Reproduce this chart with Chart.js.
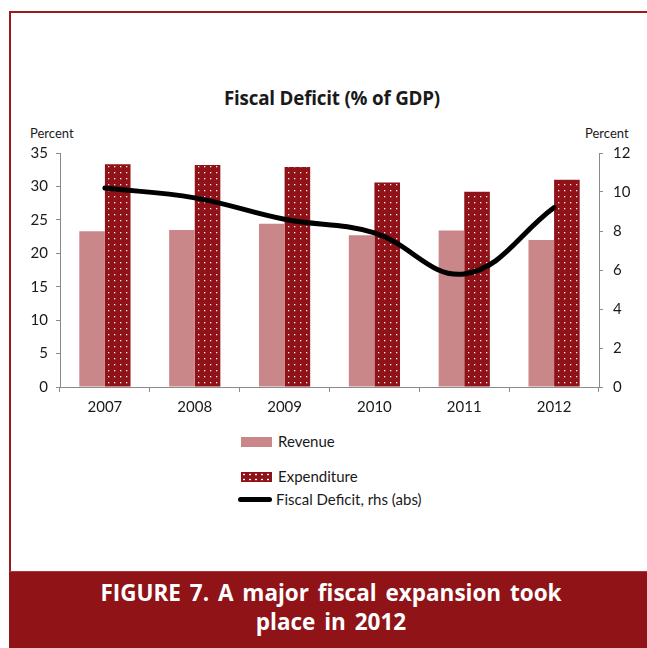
<!DOCTYPE html>
<html>
<head>
<meta charset="utf-8">
<script src="https://cdn.jsdelivr.net/npm/chart.js@4"></script>
<style>
  html, body { margin: 0; padding: 0; background: #fff; }
  body { width: 647px; height: 648px; position: relative; overflow: hidden; font-family: 'Lato', 'Open Sans', sans-serif; color: #1a1a1a; }
  .frame { position: absolute; left: 9px; top: 11px; width: 660px; height: 600px; border-left: 2px solid #9a1a1e; border-top: 2px solid #9a1a1e; }
  .title { position: absolute; left: 0; width: 664px; top: 85px; text-align: center; font-family: 'Open Sans', sans-serif; font-weight: bold; font-size: 18.8px; letter-spacing: -0.2px; }
  .unit { position: absolute; top: 125px; font-size: 13px; }
  #chartWrap { position: absolute; left: 10px; top: 134px; width: 630px; height: 296px; }
  .legend { position: absolute; left: 0; top: 0; font-size: 15px; }
  .legend .item { position: absolute; white-space: nowrap; line-height: 16px; }
  .sw { position: absolute; }
  .caption { position: absolute; left: 9px; top: 571px; width: 638px; height: 77px; background: #8f1317; border-top: 1px solid #a8383b; box-sizing: border-box; color: #fff; font-family: 'Open Sans', sans-serif; font-weight: bold; font-size: 22.5px; word-spacing: 3px; text-align: center; line-height: 29px; padding-top: 6px; padding-left: 6px; }
</style>
</head>
<body>
<div class="frame"></div>
<div class="title">Fiscal Deficit (% of GDP)</div>
<div class="unit" style="left:30px">Percent</div>
<div class="unit" style="left:585px">Percent</div>
<div id="chartWrap"><canvas id="fiscalChart"></canvas></div>

<div class="legend">
  <div class="sw" style="left:241px; top:437px; width:31px; height:10px; background:#c9878a"></div>
  <div class="item" style="left:278px; top:433px">Revenue</div>
  <div class="sw" style="left:241px; top:472px; width:31px; height:10px; background:#8e1217 radial-gradient(circle, #fff 0.7px, transparent 1.2px) 0 0 / 6px 5px"></div>
  <div class="item" style="left:278px; top:468px">Expenditure</div>
  <div class="sw" style="left:238px; top:497px; width:34px; height:5px; background:#000; border-radius:3px"></div>
  <div class="item" style="left:276px; top:491px">Fiscal Deficit, rhs (abs)</div>
</div>

<div class="caption">FIGURE 7. A major fiscal expansion took<br>place in 2012</div>

<script>
'use strict';

// Data: % of GDP
const years = ['2007', '2008', '2009', '2010', '2011', '2012'];
const revenue = [23.3, 23.5, 24.4, 22.7, 23.4, 22.0];
const expenditure = [33.3, 33.2, 32.9, 30.6, 29.2, 31.0];
const deficit = [10.2, 9.7, 8.6, 7.9, 5.8, 9.2];

const leftTicks = [0, 5, 10, 15, 20, 25, 30, 35];
const rightTicks = [0, 2, 4, 6, 8, 10, 12];

const textColor = '#1a1a1a';
const axisColor = '#8a8a8a';
const tickFont = { family: "'Lato', 'Open Sans', sans-serif", size: 15 };

// White-dotted fill for expenditure bars
function dotPattern() {
  const tile = document.createElement('canvas');
  tile.width = 6;
  tile.height = 6;
  const t = tile.getContext('2d');
  t.fillStyle = '#8e1217';
  t.fillRect(0, 0, 6, 6);
  t.fillStyle = 'rgba(255,255,255,0.95)';
  t.fillRect(2, 2, 1.3, 1.3);
  return t.createPattern(tile, 'repeat');
}

const ctx = document.getElementById('fiscalChart').getContext('2d');

new Chart(ctx, {
  type: 'bar',
  data: {
    labels: years,
    datasets: [
      {
        label: 'Fiscal Deficit, rhs (abs)',
        type: 'line',
        data: deficit,
        yAxisID: 'y1',
        borderColor: '#000',
        borderWidth: 5,
        pointRadius: 0,
        tension: 0.4,
        borderCapStyle: 'round',
        order: 0
      },
      {
        label: 'Revenue',
        data: revenue,
        backgroundColor: '#c9878a',
        yAxisID: 'y',
        order: 1
      },
      {
        label: 'Expenditure',
        data: expenditure,
        backgroundColor: dotPattern(),
        yAxisID: 'y',
        order: 1
      }
    ]
  },
  options: {
    responsive: true,
    maintainAspectRatio: false,
    animation: false,
    events: [],
    layout: { padding: { top: 7, left: 0, right: 0, bottom: 0 } },
    datasets: { bar: { categoryPercentage: 0.57, barPercentage: 1.0 } },
    plugins: {
      legend: { display: false },
      tooltip: { enabled: false }
    },
    scales: {
      x: {
        grid: { display: true, drawOnChartArea: false, color: axisColor, tickLength: 5 },
        border: { color: axisColor },
        ticks: { color: textColor, font: tickFont, padding: 6 },
        afterFit: s => { s.height = 43; }
      },
      y: {
        position: 'left',
        min: 0,
        max: 35,
        afterBuildTicks: s => { s.ticks = leftTicks.map(v => ({ value: v })); },
        grid: { display: true, drawOnChartArea: false, color: axisColor, tickLength: 4 },
        border: { color: axisColor },
        ticks: { color: textColor, font: tickFont, padding: 8 },
        afterFit: s => { s.width = 50; }
      },
      y1: {
        position: 'right',
        min: 0,
        max: 12,
        afterBuildTicks: s => { s.ticks = rightTicks.map(v => ({ value: v })); },
        grid: { display: true, drawOnChartArea: false, color: axisColor, tickLength: 4 },
        border: { color: axisColor },
        ticks: { color: textColor, font: tickFont, padding: 10 },
        afterFit: s => { s.width = 41; }
      }
    }
  }
});
</script>
</body>
</html>
